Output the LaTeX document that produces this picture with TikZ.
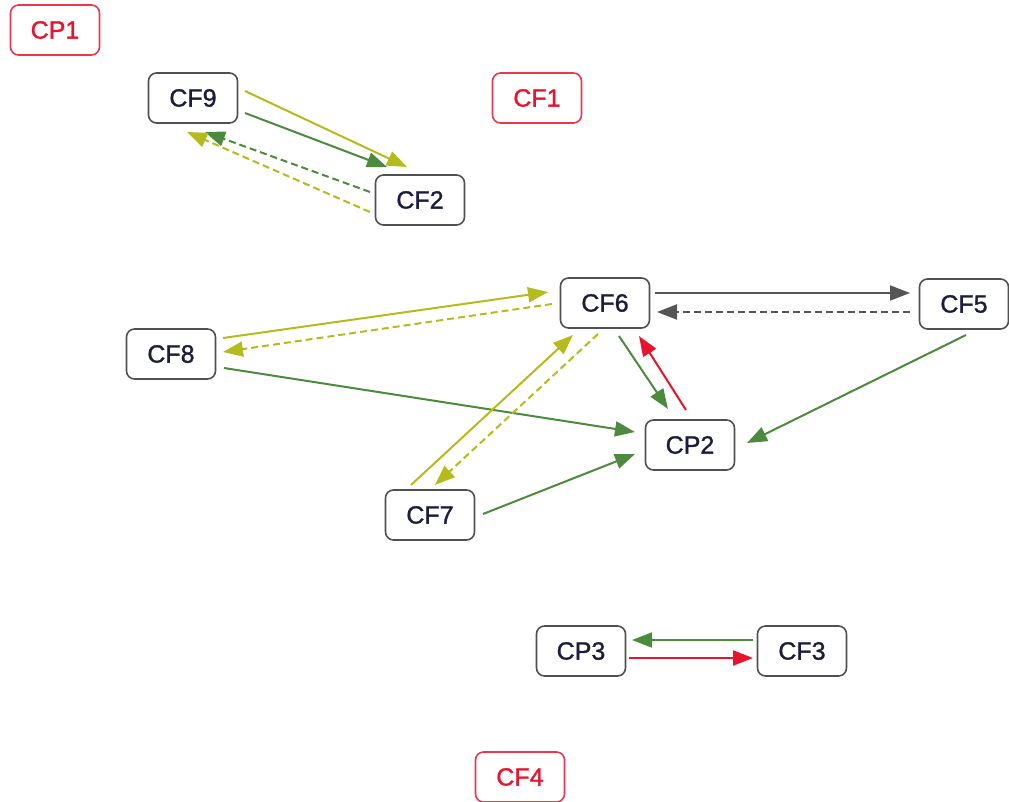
\documentclass[tikz,border=0pt]{standalone}
\usepackage{fontspec}
\setmainfont{Liberation Sans}
\newfontfamily\labelfont{Liberation Sans}[BoldFont={Liberation Sans},BoldFeatures={FakeBold=1.2}]
\usetikzlibrary{arrows.meta}
\definecolor{colOlive}{HTML}{B3BC1C}
\definecolor{colGreen}{HTML}{4C8A3E}
\definecolor{colGray}{HTML}{555555}
\definecolor{colRed}{HTML}{E8142E}
\definecolor{boxGray}{HTML}{505050}
\definecolor{txtCol}{HTML}{1C1C3C}
\begin{document}
\begin{tikzpicture}[x=1pt,y=-1pt,
  box/.style={draw=boxGray, line width=1.6pt, rounded corners=8pt, minimum width=89pt, minimum height=50pt, text=txtCol, font=\labelfont\bfseries\fontsize{25}{28}\selectfont, inner sep=0pt, fill=white},
  redbox/.style={box, draw=colRed!85, text=colRed},
  edge/.style={line width=2pt, -{Triangle[length=20pt,width=15pt]}},
  dsh/.style={dash pattern=on 7pt off 4pt}]
\useasboundingbox (0,0) rectangle (1009,801);
% nodes
\node[redbox] (CP1) at (55,30) {CP1};
\node[box] (CF9) at (193,98) {CF9};
\node[redbox] (CF1) at (537,98) {CF1};
\node[box] (CF2) at (420,200) {CF2};
\node[box] (CF6) at (605,303) {CF6};
\node[box] (CF5) at (964,304) {CF5};
\node[box] (CF8) at (171,354) {CF8};
\node[box] (CP2) at (690,445) {CP2};
\node[box] (CF7) at (430,515) {CF7};
\node[box] (CP3) at (581,651) {CP3};
\node[box] (CF3) at (802,651) {CF3};
\node[redbox] (CF4) at (520,777) {CF4};
% edges CF9 / CF2
\draw[edge, colOlive] ([shift={(52,-7)}]CF9.center) -- ([shift={(-13,-33)}]CF2.center);
\draw[edge, colGreen] ([shift={(52,15)}]CF9.center) -- ([shift={(-33,-33)}]CF2.center);
\draw[edge, colGreen, dsh] ([shift={(-50,-8)}]CF2.center) -- ([shift={(12,34)}]CF9.center);
\draw[edge, colOlive, dsh] ([shift={(-50,12)}]CF2.center) -- ([shift={(-6,34)}]CF9.center);
% CF6 / CF5
\draw[edge, colGray] ([shift={(50,-10)}]CF6.center) -- ([shift={(-54,-11)}]CF5.center);
\draw[edge, colGray, dsh] ([shift={(-54,8)}]CF5.center) -- ([shift={(52,9)}]CF6.center);
% CF8 / CF6
\draw[edge, colOlive] ([shift={(52,-16)}]CF8.center) -- ([shift={(-57,-11)}]CF6.center);
\draw[edge, colOlive, dsh] ([shift={(-53,1)}]CF6.center) -- ([shift={(52,-2)}]CF8.center);
% CF8 -> CP2
\draw[edge, colGreen] ([shift={(53,14)}]CF8.center) -- ([shift={(-55,-13)}]CP2.center);
% CF6 <-> CP2
\draw[edge, colGreen] ([shift={(14,33)}]CF6.center) -- ([shift={(-22,-36)}]CP2.center);
\draw[edge, colRed] ([shift={(-4,-35)}]CP2.center) -- ([shift={(34,33)}]CF6.center);
% CF5 -> CP2
\draw[edge, colGreen] ([shift={(2,31)}]CF5.center) -- ([shift={(57,-2)}]CP2.center);
% CF7 / CF6
\draw[edge, colOlive] ([shift={(-19,-30)}]CF7.center) -- ([shift={(-32,32)}]CF6.center);
\draw[edge, colOlive, dsh] ([shift={(-7,31)}]CF6.center) -- ([shift={(5,-30)}]CF7.center);
% CF7 -> CP2
\draw[edge, colGreen] ([shift={(53,-1)}]CF7.center) -- ([shift={(-55,9)}]CP2.center);
% CP3 / CF3
\draw[edge, colGreen] ([shift={(-49,-11)}]CF3.center) -- ([shift={(51,-11)}]CP3.center);
\draw[edge, colRed] ([shift={(48,7)}]CP3.center) -- ([shift={(-49,7)}]CF3.center);
\end{tikzpicture}
\end{document}
